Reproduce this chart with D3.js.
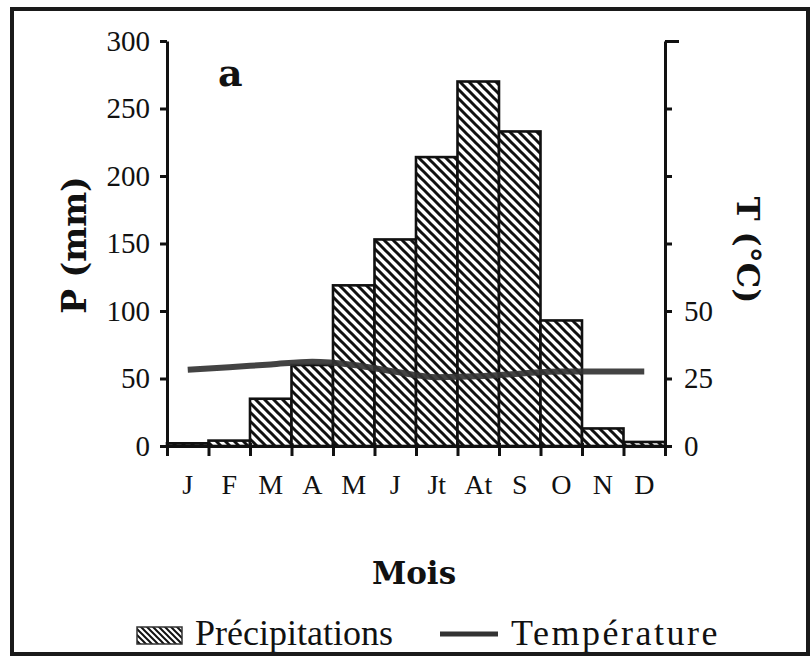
<!DOCTYPE html>
<html>
<head>
<meta charset="utf-8">
<script src="https://cdn.jsdelivr.net/npm/d3@7"></script>
<style>
  html, body { margin: 0; padding: 0; background: #ffffff; }
  svg { display: block; }
</style>
</head>
<body>
<svg id="chart" width="812" height="663"></svg>
<script>
// ---- Data ----
const months = ["J", "F", "M", "A", "M", "J", "Jt", "At", "S", "O", "N", "D"];
const precipitation = [2, 4, 35, 60, 119, 153, 214, 270, 233, 93, 13, 3];   // mm
const temperature = [28.2, 29.2, 30.2, 31.2, 30, 27.5, 25.5, 25.8, 26.8, 27.6, 27.6, 27.6]; // °C
const pTicks = [0, 50, 100, 150, 200, 250, 300];
const tTicks = [0, 25, 50, 75, 100, 125, 150];
const tLabelled = [0, 25, 50];

// ---- Layout ----
const W = 812, H = 663;
const plotLeft = 167, plotRight = 665, plotTop = 41, plotBottom = 446;

const svg = d3.select("#chart");
svg.append("rect").attr("width", W).attr("height", H).attr("fill", "#ffffff");

const defs = svg.append("defs");
function hatch(id, s, w) {
  const p = defs.append("pattern").attr("id", id)
    .attr("patternUnits", "userSpaceOnUse").attr("width", s).attr("height", s);
  p.append("rect").attr("width", s).attr("height", s).attr("fill", "#fff");
  p.append("path")
    .attr("d", `M0,0L${s},${s}M${-s/2},${s/2}L${s/2},${s*1.5}M${s/2},${-s/2}L${s*1.5},${s/2}`)
    .attr("stroke", "#111").attr("stroke-width", w);
}
hatch("hatch", 9, 3);
hatch("hatchSmall", 6, 2);

// ---- Scales ----
const idx = d3.range(months.length);
const x = d3.scaleBand().domain(idx).range([plotLeft, plotRight]).padding(0);
const xb = d3.scaleLinear().domain([0, months.length]).range([plotLeft, plotRight]);
const yP = d3.scaleLinear().domain([0, 300]).range([plotBottom, plotTop]);
const yT = d3.scaleLinear().domain([0, 150]).range([plotBottom, plotTop]);

const serif = "'Liberation Serif', 'Times New Roman', serif";
const serifBold = "'DejaVu Serif', 'Liberation Serif', serif";

// ---- Bars ----
svg.append("g").selectAll("rect").data(idx).join("rect")
  .attr("x", i => x(i))
  .attr("y", i => yP(precipitation[i]))
  .attr("width", x.bandwidth())
  .attr("height", i => yP(0) - yP(precipitation[i]))
  .attr("fill", "url(#hatch)")
  .attr("stroke", "#111")
  .attr("stroke-width", 2.6);

// ---- Temperature line ----
const line = d3.line()
  .x(i => x(i) + x.bandwidth() / 2)
  .y(i => yT(temperature[i]))
  .curve(d3.curveMonotoneX);
svg.append("path").datum(idx)
  .attr("d", line)
  .attr("fill", "none")
  .attr("stroke", "#333")
  .attr("stroke-width", 6)
  .attr("stroke-linecap", "butt")
  .attr("opacity", 0.92);

// ---- Axes ----
function styleAxis(g, fs) {
  g.selectAll("path.domain").attr("stroke", "#111").attr("stroke-width", 3);
  g.selectAll(".tick line").attr("stroke", "#111").attr("stroke-width", 3);
  g.selectAll("text").attr("font-family", serif).attr("font-size", fs).attr("fill", "#111");
}

const gL = svg.append("g").attr("transform", `translate(${plotLeft},0)`)
  .call(d3.axisLeft(yP).tickValues(pTicks).tickSizeInner(7).tickSizeOuter(0).tickPadding(10));
styleAxis(gL, 29);

const gR = svg.append("g").attr("transform", `translate(${plotRight},0)`)
  .call(d3.axisRight(yT).tickValues(tTicks).tickSizeInner(7).tickSizeOuter(0).tickPadding(12)
    .tickFormat(d => tLabelled.includes(d) ? d : ""));
styleAxis(gR, 29);
gR.selectAll(".tick").filter(d => d === 150).select("line").attr("x2", 14);

const gB = svg.append("g").attr("transform", `translate(0,${plotBottom})`)
  .call(d3.axisBottom(xb).tickValues(d3.range(months.length + 1)).tickSizeInner(10).tickSizeOuter(0).tickFormat(""));
styleAxis(gB, 28);
gB.selectAll(".tick line").attr("y1", -3);

const gM = svg.append("g").attr("transform", `translate(0,${plotBottom})`)
  .call(d3.axisBottom(x).tickSize(0).tickPadding(28).tickFormat(i => months[i]));
gM.select("path.domain").remove();
styleAxis(gM, 28);

// ---- Titles ----
svg.append("text")
  .attr("transform", `translate(74,245) rotate(-90)`)
  .attr("text-anchor", "middle").attr("dominant-baseline", "central")
  .attr("font-family", serifBold).attr("font-weight", "bold").attr("font-size", 33)
  .attr("fill", "#111").text("P (mm)");

svg.append("text")
  .attr("transform", `translate(748,250) rotate(90)`)
  .attr("text-anchor", "middle").attr("dominant-baseline", "central")
  .attr("font-family", serifBold).attr("font-weight", "bold").attr("font-size", 32)
  .attr("fill", "#111").text("T (°C)");

svg.append("text")
  .attr("x", 414).attr("y", 584)
  .attr("text-anchor", "middle")
  .attr("font-family", serifBold).attr("font-weight", "bold").attr("font-size", 31)
  .attr("fill", "#111").text("Mois");

svg.append("text")
  .attr("x", 218).attr("y", 86)
  .attr("font-family", serifBold).attr("font-weight", "bold").attr("font-size", 38)
  .attr("fill", "#111").text("a");

// ---- Legend ----
const lg = svg.append("g");
lg.append("rect").attr("x", 137).attr("y", 627).attr("width", 45).attr("height", 17)
  .attr("fill", "url(#hatchSmall)").attr("stroke", "#333").attr("stroke-width", 1.5);
lg.append("text").attr("x", 195).attr("y", 645)
  .attr("font-family", serif).attr("font-size", 36).attr("fill", "#111").text("Précipitations");
lg.append("line").attr("x1", 440).attr("x2", 498).attr("y1", 634).attr("y2", 634)
  .attr("stroke", "#333").attr("stroke-width", 5);
lg.append("text").attr("x", 511).attr("y", 645)
  .attr("font-family", serif).attr("font-size", 36).attr("letter-spacing", 2.5)
  .attr("fill", "#111").text("Température");

// ---- Frame ----
svg.append("rect").attr("x", 12).attr("y", 9).attr("width", 796).attr("height", 645)
  .attr("fill", "none").attr("stroke", "#1a1a1a").attr("stroke-width", 4);
</script>
</body>
</html>
